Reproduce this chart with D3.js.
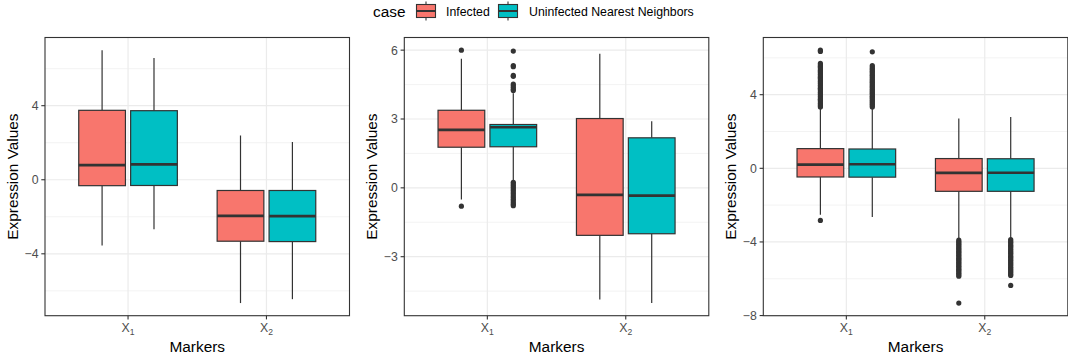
<!DOCTYPE html>
<html><head><meta charset="utf-8">
<script src="https://cdn.jsdelivr.net/npm/d3@7"></script>
<style>body{margin:0;background:#fff;} svg{display:block;font-family:"Liberation Sans",Arial,sans-serif;}</style>
</head><body>
<script>
// ---------- data ----------
const categories = ["X1", "X2"];
const groups = ["Infected", "Uninfected Nearest Neighbors"];
const groupColors = ["#F8766D", "#00BFC4"];

// box stats per marker: [lowerWhisker, Q1, median, Q3, upperWhisker]
const panel1Infected   = [[-3.55, -0.32, 0.79, 3.75, 7.00], [-6.66, -3.32, -1.95, -0.58, 2.39]];
const panel1Uninfected = [[-2.67, -0.31, 0.83, 3.73, 6.58], [-6.45, -3.34, -1.96, -0.58, 2.04]];
const panel1InfectedOut   = [[], []];
const panel1UninfectedOut = [[], []];

const panel2Infected   = [[-0.51, 1.77, 2.53, 3.38, 5.63], [-4.87, -2.07, -0.31, 3.02, 5.84]];
const panel2Uninfected = [[0.30, 1.79, 2.64, 2.76, 4.12], [-5.02, -2.00, -0.34, 2.18, 2.90]];
const panel2InfectedOut   = [[6.00, -0.80], []];
const panel2UninfectedOut = [[5.96, 5.33, 5.28, 4.90, 4.86, 4.52, 4.46, 4.38, 4.30, 4.24,
                             0.24, 0.17, 0.10, 0.03, -0.05, -0.12, -0.20, -0.27, -0.35, -0.42, -0.50, -0.57, -0.65, -0.72, -0.78], []];

const panel3Infected   = [[-2.52, -0.47, 0.20, 1.07, 3.30], [-3.82, -1.25, -0.25, 0.53, 2.70]];
const panel3Uninfected = [[-2.64, -0.48, 0.22, 1.05, 3.30], [-3.80, -1.25, -0.24, 0.52, 2.79]];
const panel3InfectedOut = [
  [6.42, 6.35, 5.70, 5.62, 5.55, 5.48, 5.40, 5.32, 5.25, 5.18, 5.10, 5.02, 4.95, 4.88, 4.80, 4.72, 4.65, 4.58, 4.50,
   4.42, 4.35, 4.28, 4.20, 4.12, 4.05, 3.98, 3.90, 3.82, 3.75, 3.68, 3.60, 3.52, 3.45, 3.38, 3.33, -2.83],
  [-3.90, -3.98, -4.05, -4.12, -4.20, -4.28, -4.35, -4.42, -4.50, -4.58, -4.65, -4.72, -4.80, -4.88, -4.95, -5.02,
   -5.10, -5.18, -5.25, -5.32, -5.40, -5.48, -5.55, -5.62, -5.70, -5.78, -5.86, -7.32]];
const panel3UninfectedOut = [
  [6.33, 5.58, 5.50, 5.42, 5.35, 5.28, 5.20, 5.12, 5.05, 4.98, 4.90, 4.82, 4.75, 4.68, 4.60, 4.52, 4.45, 4.38, 4.30,
   4.22, 4.15, 4.08, 4.00, 3.92, 3.85, 3.78, 3.70, 3.62, 3.55, 3.48, 3.40, 3.33],
  [-3.87, -3.95, -4.02, -4.10, -4.18, -4.25, -4.32, -4.40, -4.48, -4.55, -4.62, -4.70, -4.78, -4.85, -4.92, -5.00,
   -5.08, -5.15, -5.22, -5.30, -5.38, -5.45, -5.52, -5.60, -5.68, -5.75, -5.82, -6.36]];

const panel1Ticks = [-4, 0, 4];
const panel2Ticks = [-3, 0, 3, 6];
const panel3Ticks = [-8, -4, 0, 4];
const panel1Minor = [-6, -2, 2, 6];
const panel2Minor = [-4.5, -1.5, 1.5, 4.5];
const panel3Minor = [-6, -2, 2, 6];

const xTitle = "Markers";
const yTitle = "Expression Values";
const legendTitle = "case";

const panels = [
  {stats: [panel1Infected, panel1Uninfected], outs: [panel1InfectedOut, panel1UninfectedOut], ticks: panel1Ticks, minor: panel1Minor},
  {stats: [panel2Infected, panel2Uninfected], outs: [panel2InfectedOut, panel2UninfectedOut], ticks: panel2Ticks, minor: panel2Minor},
  {stats: [panel3Infected, panel3Uninfected], outs: [panel3InfectedOut, panel3UninfectedOut], ticks: panel3Ticks, minor: panel3Minor}
];

// ---------- layout ----------
const W = 1068, H = 359;
const svg = d3.select("body").append("svg").attr("width", W).attr("height", H);
const panelLefts = [45, 404.3, 763.3];
const panelW = 304.5;
const pTop = 37.5, pBottom = 315.7;
const titleSize = 15.4, labelSize = 12.3;

panels.forEach((p, pi) => {
  const x0 = panelLefts[pi], x1 = x0 + panelW;
  let vals = [];
  p.stats.forEach((g, gi) => g.forEach((s, ci) => { vals.push(s[0], s[4]); vals = vals.concat(p.outs[gi][ci]); }));
  const mn = d3.min(vals), mx = d3.max(vals), ex = (mx - mn) * 0.05;
  const y = d3.scaleLinear().domain([mn - ex, mx + ex]).range([pBottom, pTop]);
  const x = d3.scaleLinear().domain([0.4, categories.length + 0.6]).range([x0, x1]);
  const g = svg.append("g");
  // grid
  g.selectAll(".minor").data(p.minor.filter(v => y(v) > pTop && y(v) < pBottom)).enter().append("line")
    .attr("x1", x0).attr("x2", x1).attr("y1", d => y(d)).attr("y2", d => y(d))
    .attr("stroke", "#EBEBEB").attr("stroke-width", 0.6);
  g.selectAll(".major").data(p.ticks.filter(v => y(v) >= pTop && y(v) <= pBottom)).enter().append("line")
    .attr("x1", x0).attr("x2", x1).attr("y1", d => y(d)).attr("y2", d => y(d))
    .attr("stroke", "#EBEBEB").attr("stroke-width", 1.2);
  g.selectAll(".vmajor").data(categories).enter().append("line")
    .attr("x1", (d, i) => x(i + 1)).attr("x2", (d, i) => x(i + 1)).attr("y1", pTop).attr("y2", pBottom)
    .attr("stroke", "#EBEBEB").attr("stroke-width", 1.2);

  // boxes
  const bw = 0.3375, off = 0.1875;
  p.stats.forEach((grp, gi) => {
    grp.forEach((s, ci) => {
      const c = ci + 1 + (gi === 0 ? -off : off);
      const cx = x(c), l = x(c - bw / 2), r = x(c + bw / 2);
      const bg = g.append("g");
      bg.append("line").attr("x1", cx).attr("x2", cx).attr("y1", y(s[4])).attr("y2", y(s[3]))
        .attr("stroke", "#333333").attr("stroke-width", 1.2);
      bg.append("line").attr("x1", cx).attr("x2", cx).attr("y1", y(s[1])).attr("y2", y(s[0]))
        .attr("stroke", "#333333").attr("stroke-width", 1.2);
      bg.append("rect").attr("x", l).attr("width", r - l).attr("y", y(s[3])).attr("height", y(s[1]) - y(s[3]))
        .attr("fill", groupColors[gi]).attr("stroke", "#333333").attr("stroke-width", 1.2);
      bg.append("line").attr("x1", l).attr("x2", r).attr("y1", y(s[2])).attr("y2", y(s[2]))
        .attr("stroke", "#333333").attr("stroke-width", 2.7);
      bg.selectAll("circle").data(p.outs[gi][ci]).enter().append("circle")
        .attr("cx", cx).attr("cy", d => y(d)).attr("r", 2.6).attr("fill", "#333333");
    });
  });

  // border
  g.append("rect").attr("x", x0).attr("y", pTop).attr("width", panelW).attr("height", pBottom - pTop)
    .attr("fill", "none").attr("stroke", "#333333").attr("stroke-width", 1.1);

  // y axis ticks + labels
  p.ticks.forEach(t => {
    g.append("line").attr("x1", x0 - 3.7).attr("x2", x0).attr("y1", y(t)).attr("y2", y(t))
      .attr("stroke", "#333333").attr("stroke-width", 1.1);
    g.append("text").attr("x", x0 - 6.5).attr("y", y(t)).attr("dy", "0.36em").attr("text-anchor", "end")
      .attr("font-size", labelSize).attr("fill", "#4D4D4D").text(t < 0 ? "\u2212" + Math.abs(t) : t);
  });
  // x axis ticks + labels
  categories.forEach((c, i) => {
    const cx = x(i + 1);
    g.append("line").attr("x1", cx).attr("x2", cx).attr("y1", pBottom).attr("y2", pBottom + 3.7)
      .attr("stroke", "#333333").attr("stroke-width", 1.1);
    const t = g.append("text").attr("x", cx).attr("y", 332).attr("text-anchor", "middle")
      .attr("font-size", labelSize).attr("fill", "#4D4D4D");
    t.append("tspan").text(c[0]);
    t.append("tspan").attr("font-size", 8.6).attr("dy", 2.6).text(c.slice(1));
  });
  // axis titles
  g.append("text").attr("x", (x0 + x1) / 2).attr("y", 351.5).attr("text-anchor", "middle")
    .attr("font-size", titleSize).attr("fill", "#000").text(xTitle);
  g.append("text").attr("transform", `translate(${x0 - 27.5},${(pTop + pBottom) / 2}) rotate(-90)`)
    .attr("text-anchor", "middle").attr("font-size", titleSize).attr("fill", "#000").text(yTitle);
});

// legend
const lg = svg.append("g");
lg.append("text").attr("x", 373).attr("y", 16.7).attr("font-size", titleSize).attr("fill", "#000").text(legendTitle);
const keyX = [416.5, 498.5], labX = [446, 529];
groups.forEach((gname, i) => {
  const kx = keyX[i], kw = 19, cy = 11;
  lg.append("line").attr("x1", kx + kw / 2).attr("x2", kx + kw / 2).attr("y1", 1.5).attr("y2", 20.5)
    .attr("stroke", "#333333").attr("stroke-width", 1.1);
  lg.append("rect").attr("x", kx).attr("y", 4.5).attr("width", kw).attr("height", 13)
    .attr("fill", groupColors[i]).attr("stroke", "#333333").attr("stroke-width", 1.1);
  lg.append("line").attr("x1", kx).attr("x2", kx + kw).attr("y1", cy).attr("y2", cy)
    .attr("stroke", "#333333").attr("stroke-width", 2);
  lg.append("text").attr("x", labX[i]).attr("y", 15.5).attr("font-size", labelSize).attr("fill", "#000").text(gname);
});
</script>
</body></html>
